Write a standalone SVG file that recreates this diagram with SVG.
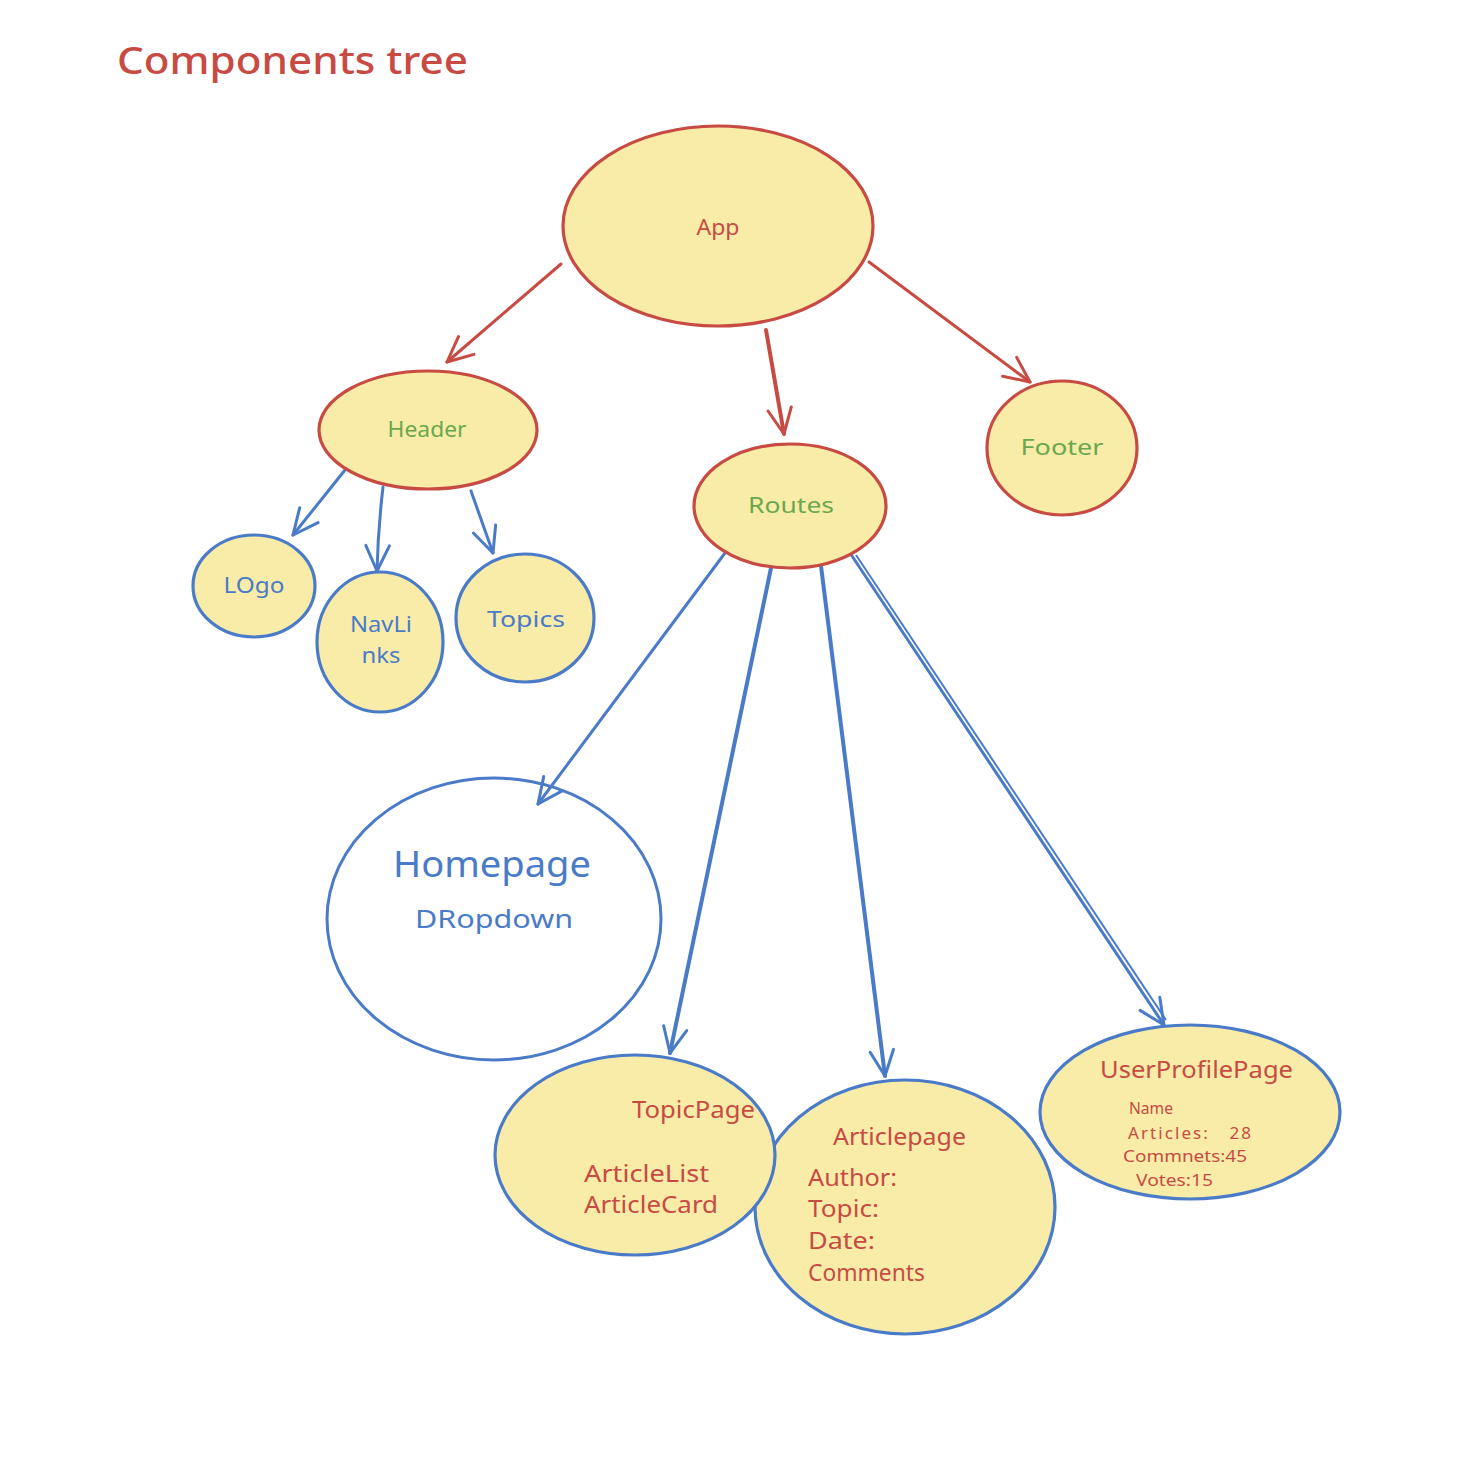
<svg xmlns="http://www.w3.org/2000/svg" width="1470" height="1472" viewBox="0 0 1470 1472">
<style>
.bg{fill:#ffffff}
.nr{fill:#f9eca8;stroke:#c84b43;stroke-width:3.2}
.nb{fill:#f9eca8;stroke:#4a7bc8;stroke-width:3.2}
.nw{fill:none;stroke:#4a7bc8;stroke-width:3}
text{font-family:"Noto Sans","Liberation Sans",sans-serif}
.tr{fill:#c84b43}
.tb{fill:#4a7bc8}
.tg{fill:#6aa84f}
.c{text-anchor:middle}
.ar{fill:none;stroke:#c84b43;stroke-width:3;stroke-linecap:round;marker-end:url(#ahr)}
.ab{fill:none;stroke:#4a7bc8;stroke-width:3;stroke-linecap:round;marker-end:url(#ahb)}
</style>
<defs>
<marker id="ahr" markerUnits="userSpaceOnUse" orient="auto" markerWidth="40" markerHeight="40" viewBox="-30 -20 34 40" refX="0" refY="0" overflow="visible">
<path d="M-25.4,-11.8 L0,0 L-25.4,11.8" fill="none" stroke="#c84b43" stroke-width="3" stroke-linecap="round" stroke-linejoin="round"/>
</marker>
<marker id="ahb" markerUnits="userSpaceOnUse" orient="auto" markerWidth="40" markerHeight="40" viewBox="-30 -20 34 40" refX="0" refY="0" overflow="visible">
<path d="M-25.4,-11.8 L0,0 L-25.4,11.8" fill="none" stroke="#4a7bc8" stroke-width="3" stroke-linecap="round" stroke-linejoin="round"/>
</marker>
</defs>
<rect class="bg" x="0" y="0" width="1470" height="1472"/>

<g id="title">
<text class="tr" x="117" y="74" font-size="38" font-weight="500" textLength="351" lengthAdjust="spacingAndGlyphs">Components tree</text>
</g>

<g id="connectors">
<path class="ar" d="M561,264 L447,362"/>
<path class="ar" d="M766,330 L784,434" style="stroke-width:4"/>
<path class="ar" d="M869,262 L1030,382"/>
<path class="ab" d="M345,470 L293,535"/>
<path class="ab" d="M383,487 Q378,530 377,571"/>
<path class="ab" d="M471,491 L493,553"/>
<path class="ab" d="M725,553 L538,804"/>
<path class="ab" d="M771,568 L670,1053" style="stroke-width:4"/>
<path class="ab" d="M821,566 L885,1076" style="stroke-width:4"/>
<path class="ab" d="M852,556 L1164,1025"/>
<path d="M856,555 L1166,1020" fill="none" stroke="#4a7bc8" stroke-width="2"/>
</g>

<g id="app">
<ellipse class="nr" cx="718" cy="226" rx="155" ry="100"/>
<text class="tr c" x="718" y="235" font-size="22" textLength="43" lengthAdjust="spacingAndGlyphs">App</text>
</g>

<g id="header">
<ellipse class="nr" cx="428" cy="430" rx="109" ry="59"/>
<text class="tg c" x="427" y="437" font-size="22" textLength="79" lengthAdjust="spacingAndGlyphs">Header</text>
</g>

<g id="footer">
<ellipse class="nr" cx="1062" cy="448" rx="75" ry="67"/>
<text class="tg c" x="1062" y="455" font-size="22" textLength="83" lengthAdjust="spacingAndGlyphs">Footer</text>
</g>

<g id="routes">
<ellipse class="nr" cx="790" cy="506" rx="96" ry="62"/>
<text class="tg c" x="791" y="513" font-size="22" textLength="86" lengthAdjust="spacingAndGlyphs">Routes</text>
</g>

<g id="logo">
<ellipse class="nb" cx="254" cy="586" rx="61" ry="51"/>
<text class="tb c" x="254" y="593" font-size="21" textLength="61" lengthAdjust="spacingAndGlyphs">LOgo</text>
</g>

<g id="navlinks">
<ellipse class="nb" cx="380" cy="642" rx="63" ry="70"/>
<text class="tb c" x="381" y="632" font-size="21" textLength="62" lengthAdjust="spacingAndGlyphs">NavLi</text>
<text class="tb c" x="381" y="663" font-size="21" textLength="39" lengthAdjust="spacingAndGlyphs">nks</text>
</g>

<g id="topics">
<ellipse class="nb" cx="525" cy="618" rx="69" ry="64"/>
<text class="tb c" x="526" y="627" font-size="21" textLength="78" lengthAdjust="spacingAndGlyphs">Topics</text>
</g>

<g id="homepage">
<ellipse class="nw" cx="494" cy="919" rx="167" ry="141"/>
<text class="tb c" x="492" y="877" font-size="36" textLength="198" lengthAdjust="spacingAndGlyphs">Homepage</text>
<text class="tb c" x="494" y="928" font-size="26" textLength="158" lengthAdjust="spacingAndGlyphs">DRopdown</text>
</g>

<g id="articlepage">
<ellipse class="nb" cx="905" cy="1207" rx="150" ry="127"/>
<text class="tr" x="833" y="1145" font-size="24" textLength="133" lengthAdjust="spacingAndGlyphs">Articlepage</text>
<text class="tr" x="808" y="1186" font-size="24" textLength="89" lengthAdjust="spacingAndGlyphs">Author:</text>
<text class="tr" x="808" y="1217" font-size="24" textLength="71" lengthAdjust="spacingAndGlyphs">Topic:</text>
<text class="tr" x="808" y="1249" font-size="24" textLength="67" lengthAdjust="spacingAndGlyphs">Date:</text>
<text class="tr" x="808" y="1281" font-size="24" textLength="117" lengthAdjust="spacingAndGlyphs">Comments</text>
</g>

<g id="topicpage">
<ellipse class="nb" cx="635" cy="1155" rx="140" ry="100"/>
<text class="tr" x="632" y="1118" font-size="24" textLength="123" lengthAdjust="spacingAndGlyphs">TopicPage</text>
<text class="tr" x="584" y="1182" font-size="24" textLength="125" lengthAdjust="spacingAndGlyphs">ArticleList</text>
<text class="tr" x="584" y="1213" font-size="24" textLength="134" lengthAdjust="spacingAndGlyphs">ArticleCard</text>
</g>

<g id="userprofilepage">
<ellipse class="nb" cx="1190" cy="1112" rx="150" ry="87"/>
<text class="tr" x="1100" y="1078" font-size="24" textLength="193" lengthAdjust="spacingAndGlyphs">UserProfilePage</text>
<text class="tr" x="1129" y="1114" font-size="16" textLength="44" lengthAdjust="spacingAndGlyphs">Name</text>
<text class="tr" x="1128" y="1139" font-size="17" textLength="123" lengthAdjust="spacing" xml:space="preserve">Articles:   28</text>
<text class="tr" x="1123" y="1162" font-size="17" textLength="124" lengthAdjust="spacingAndGlyphs">Commnets:45</text>
<text class="tr" x="1136" y="1186" font-size="17" textLength="77" lengthAdjust="spacingAndGlyphs">Votes:15</text>
</g>
</svg>
